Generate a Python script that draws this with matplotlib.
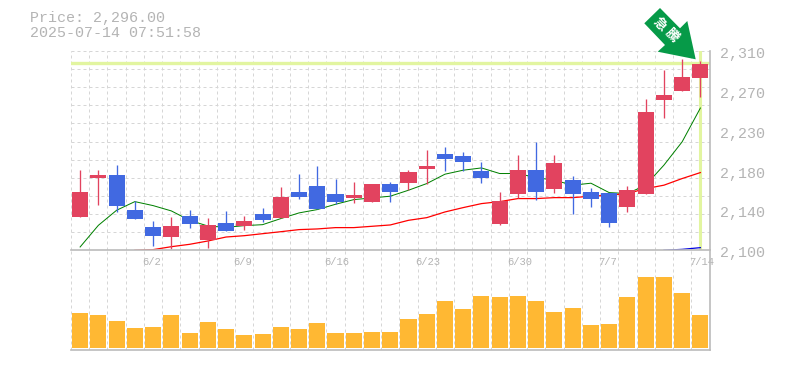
import matplotlib
matplotlib.use("Agg")
import matplotlib.pyplot as plt
from matplotlib.patches import Polygon, Rectangle
from matplotlib.lines import Line2D

title_price = "Price: 2,296.00"
title_time = "2025-07-14 07:51:58"
last_price = 2296.5
date_labels = {4: "6/2", 9: "6/9", 14: "6/16", 19: "6/23", 24: "6/30", 29: "7/7", 34: "7/14"}
price_ticks = [2100, 2142, 2184, 2226, 2268, 2310]
price_tick_labels = ["2,100", "2,140", "2,180", "2,230", "2,270", "2,310"]

opens = [2134.8, 2175.9, 2179.1, 2142.2, 2124.2, 2113.7, 2135.8, 2110.5, 2128.4, 2125.3, 2137.9, 2133.7,
         2161.2, 2167.5, 2159.0, 2154.8, 2150.6, 2169.6, 2171.0, 2185.4, 2201.3, 2199.2, 2183.3, 2127.4,
         2159.0, 2184.4, 2164.3, 2173.8, 2161.2, 2160.1, 2145.3, 2159.0, 2258.3, 2267.8, 2281.5]
closes = [2161.2, 2179.1, 2146.4, 2132.7, 2114.7, 2125.3, 2127.4, 2126.3, 2120.0, 2130.6, 2131.6, 2155.9,
          2155.9, 2143.2, 2150.6, 2158.0, 2169.6, 2161.2, 2182.3, 2188.6, 2196.0, 2192.8, 2175.9, 2151.7,
          2184.4, 2161.2, 2191.8, 2159.0, 2153.8, 2128.4, 2163.3, 2245.6, 2263.6, 2282.6, 2296.5]
highs = [2184.4, 2184.4, 2189.7, 2151.7, 2130.6, 2134.8, 2142.2, 2133.7, 2141.1, 2135.8, 2144.3, 2166.4,
         2180.2, 2188.6, 2174.9, 2171.7, 2169.6, 2171.7, 2184.4, 2205.5, 2208.7, 2203.4, 2192.8, 2161.2,
         2200.2, 2213.9, 2200.2, 2178.0, 2165.4, 2160.1, 2167.5, 2259.3, 2290.0, 2301.2, 2299.5]
lows = [2134.8, 2147.4, 2140.1, 2132.7, 2104.2, 2101.0, 2123.2, 2102.1, 2120.0, 2121.0, 2129.5, 2133.7,
        2153.8, 2143.2, 2148.5, 2149.6, 2150.6, 2150.6, 2163.3, 2170.3, 2183.3, 2183.3, 2170.7, 2126.3,
        2154.8, 2152.7, 2160.1, 2138.0, 2145.3, 2124.2, 2140.1, 2159.0, 2239.3, 2267.8, 2261.5]
ma_short = [2103.5, 2126.3, 2142.2, 2151.3, 2147.1, 2141.5, 2131.6, 2125.6, 2124.2, 2126.0, 2127.0, 2133.4,
            2139.4, 2142.9, 2148.5, 2153.4, 2155.2, 2157.0, 2163.3, 2170.3, 2180.2, 2184.4, 2186.8, 2180.9,
            2180.9, 2176.6, 2173.8, 2168.6, 2170.7, 2160.8, 2159.8, 2168.6, 2189.7, 2214.3, 2249.9]
ma_mid_start = 3
ma_mid = [2100.0, 2100.7, 2103.8, 2106.3, 2109.8, 2114.0, 2115.4, 2117.5, 2119.6, 2121.8, 2122.5, 2123.9,
          2123.9, 2125.3, 2126.7, 2131.6, 2134.4, 2140.4, 2145.0, 2149.2, 2151.3, 2154.5, 2154.5, 2155.5,
          2155.5, 2157.0, 2158.0, 2159.8, 2165.0, 2168.6, 2175.6, 2181.9]
ma_long_start = 32
ma_long = [2100.0, 2101.0, 2102.8]
volumes = [35, 33, 27, 20, 21, 33, 15, 26, 19, 13, 14, 21, 19, 25, 15, 15, 16, 16,
           29, 34, 47, 39, 52, 51, 52, 47, 36, 40, 23, 24, 51, 71, 71, 55, 33]

W, H = 785, 370
L, R, T, B, VB = 71, 709.5, 51, 250.3, 350
RED, BLUE, ORANGE = "#E2435F", "#4169E1", "#FFB833"
GRID, AXIS, TXT = "#D6D6D6", "#BBBBBB", "#B4B4B4"
HILITE = "#E2F5A0"
FONT = "Liberation Mono"
PX = 0.72
n = len(opens)

fig = plt.figure(figsize=(W / 100, H / 100), dpi=100, facecolor="white")
ax = fig.add_axes([L / W, 1 - B / H, (R - L) / W, (B - T) / H])
vx = fig.add_axes([L / W, 1 - VB / H, (R - L) / W, (VB - B) / H])
for a in (ax, vx):
    a.set_xlim(0, n)
    a.set_facecolor("none")
    a.tick_params(length=0, labelbottom=False, labelleft=False)
    for s in a.spines.values():
        s.set_visible(False)
    for k in range(n + 1):
        a.axvline(k, color=GRID, lw=PX, ls=(0, (3, 3)), zorder=1, snap=True)
    a.add_line(Line2D([0, n + 0.03], [0, 0], transform=a.get_xaxis_transform(), color=AXIS, lw=1.2, zorder=6, clip_on=False))
    a.add_line(Line2D([n + 0.03, n + 0.03], [0, 1], transform=a.get_xaxis_transform(), color=AXIS, lw=1.2, zorder=6, clip_on=False))

ax.set_ylim(2100, 2310)
for k in range(1, 12):
    ax.axhline(2100 + k * 210 / 11, color=GRID, lw=PX, ls=(0, (3, 3)), zorder=1, snap=True)
ax.axhline(last_price + 0.5, color=HILITE, lw=2.4, zorder=2)
ax.axvline(n - 0.5, color=HILITE, lw=2.2, zorder=2)

xs = [i + 0.5 for i in range(n)]
ax.plot(xs, ma_short, color="#008000", lw=PX, zorder=3)
ax.plot(xs[ma_mid_start:], ma_mid, color="#FF0000", lw=0.9, zorder=3)
ax.plot(xs[ma_long_start:], ma_long, color="#0000E0", lw=0.9, zorder=3)

for x, o, c, h, l in zip(xs, opens, closes, highs, lows):
    col = RED if c >= o else BLUE
    ax.vlines(x, l, h, color=col, lw=0.95, zorder=4, clip_on=False)
    ax.add_patch(Rectangle((x - 0.44, min(o, c)), 0.88, abs(c - o), facecolor=col, edgecolor="none", zorder=5))

vx.set_ylim(-2, 98)
vx.bar(xs, volumes, width=0.88, color=ORANGE, zorder=3)

for v, s in zip(price_ticks, price_tick_labels):
    ax.annotate(s, (1, v), xycoords=("axes fraction", "data"), xytext=(10.5, -3), textcoords="offset pixels",
                family=FONT, fontsize=10.8, color=TXT, va="center", ha="left", annotation_clip=False)
for i, s in date_labels.items():
    vx.annotate(s, (i + 0.5, 1), xycoords=("data", "axes fraction"), xytext=(-11, -12), textcoords="offset pixels",
                family=FONT, fontsize=7.6, color=TXT, va="center", ha="left", annotation_clip=False)

fig.text(30 / W, 1 - 18 / H, title_price, family=FONT, fontsize=10.8, color=TXT, va="center", ha="left")
fig.text(30 / W, 1 - 33 / H, title_time, family=FONT, fontsize=10.8, color=TXT, va="center", ha="left")

arrow_px = [(660, 8), (680, 28.3), (687.3, 21), (695.7, 59.3), (657.7, 51.7), (665, 45), (644.3, 23.3)]
fig.add_artist(Polygon([(x / W, 1 - y / H) for x, y in arrow_px], closed=True, transform=fig.transFigure,
                       facecolor="#069A48", edgecolor="none", zorder=10))
for (x, y), s in zip([(660, 24), (672, 35)], ["急", "騰"]):
    fig.text(x / W, 1 - y / H, s, family="Noto Sans CJK JP", fontweight="bold", fontsize=9.5, color="white",
             rotation=-45, ha="center", va="center", zorder=11)

fig.savefig("out.png", dpi=100)
